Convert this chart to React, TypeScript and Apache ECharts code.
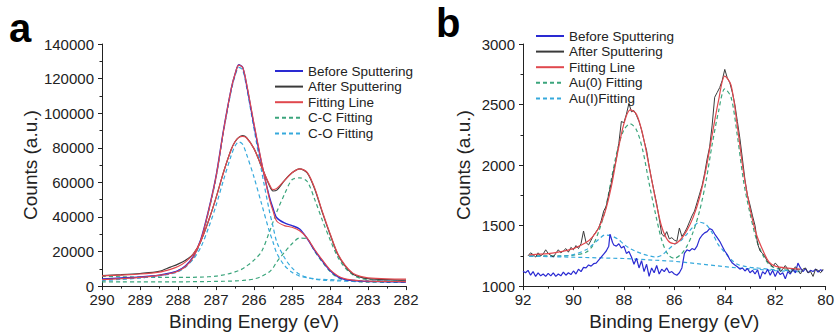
import React, { useEffect, useRef } from "react";
import * as echarts from "echarts";

const FONT = "'Liberation Sans', Arial, sans-serif";

// ---------- Panel a : C 1s ----------
const energyA = [290, 289.5, 289, 288.5, 288.2, 288, 287.8, 287.6, 287.4, 287.2, 287, 286.8, 286.6, 286.5, 286.4, 286.3, 286.2, 286, 285.8, 285.6, 285.5, 285.4, 285.2, 285, 284.8, 284.6, 284.4, 284.2, 284, 283.8, 283.6, 283.4, 283.2, 283, 282.5, 282];
const beforeExpA = [4200, 4700, 5300, 6300, 7600, 9000, 11800, 17000, 27000, 43500, 63500, 90500, 114000, 122500, 128000, 126500, 117000, 93000, 71000, 52000, 45000, 39500, 36500, 35000, 33000, 27500, 20500, 14500, 9000, 5500, 3800, 3200, 2900, 2700, 2500, 2400];
const beforeFitA = [3700, 4300, 5000, 6200, 7300, 8600, 11300, 16500, 26500, 43000, 63000, 90000, 114000, 122500, 127800, 126500, 117500, 94000, 71500, 51000, 43500, 37500, 35000, 34000, 32000, 27800, 21000, 15000, 9500, 6000, 4200, 3500, 3100, 2900, 2700, 2600];
const beforeCOA = [3300, 3900, 4700, 5900, 7000, 8300, 11000, 16200, 26000, 42500, 62500, 89500, 113000, 121500, 126500, 125000, 115500, 91000, 66500, 44000, 34500, 25500, 16500, 10500, 6800, 5000, 4000, 3500, 3200, 3000, 2900, 2800, 2700, 2700, 2600, 2500];
const beforeCCA = [2500, 2500, 2500, 2500, 2500, 2500, 2500, 2550, 2600, 2650, 2700, 2800, 2900, 3000, 3100, 3250, 3450, 4100, 5600, 8200, 10500, 14000, 19500, 24500, 27800, 27300, 20000, 13800, 8500, 5000, 3300, 2700, 2400, 2300, 2200, 2200];
const afterExpA = [6100, 6600, 7300, 8500, 11000, 12700, 15000, 18500, 26000, 37500, 51000, 66000, 79000, 83500, 86000, 87000, 86000, 79500, 69000, 58500, 55000, 55500, 61000, 65500, 67800, 65500, 56000, 42500, 30000, 18500, 11500, 7000, 5200, 4300, 3700, 3400];
const afterFitA = [5900, 6400, 7000, 8100, 9700, 11300, 14000, 18500, 26000, 37500, 51000, 66000, 79000, 83500, 86000, 86600, 85800, 79500, 69000, 59000, 55800, 56500, 61000, 65500, 67800, 65800, 56500, 43000, 30500, 19000, 12000, 7500, 5600, 4800, 4200, 4000];
const afterCOA = [3500, 4000, 4700, 6000, 7500, 9000, 11500, 15500, 22500, 33500, 46500, 61500, 75500, 81000, 83400, 82000, 76500, 63000, 47500, 32000, 25500, 19000, 12000, 8000, 5800, 4800, 4200, 3900, 3700, 3500, 3400, 3300, 3200, 3100, 3000, 3000];
const afterCCA = [5700, 5400, 5200, 5000, 5000, 5000, 5000, 5100, 5200, 5400, 5800, 6500, 7500, 8200, 9000, 10000, 11500, 15000, 20000, 31000, 37000, 43000, 53000, 61500, 62600, 60500, 50000, 38000, 27000, 17000, 10500, 6500, 4500, 3800, 3000, 2800];

// ---------- Panel b : Au 4f ----------
const energyB = [91.75, 91.5, 91, 90.5, 90, 89.5, 89.25, 89, 88.75, 88.5, 88.25, 88, 87.75, 87.5, 87.25, 87, 86.75, 86.5, 86.25, 86, 85.75, 85.5, 85.25, 85, 84.75, 84.5, 84.25, 84, 83.75, 83.5, 83.25, 83, 82.75, 82.5, 82.25, 82, 81.5, 81];
const fitB = [1258, 1262, 1268, 1285, 1310, 1360, 1405, 1480, 1610, 1820, 2100, 2340, 2455, 2420, 2250, 1990, 1720, 1490, 1375, 1350, 1385, 1460, 1570, 1730, 1960, 2250, 2530, 2735, 2660, 2320, 1930, 1640, 1430, 1300, 1200, 1165, 1148, 1140];
const au0B = [1250, 1250, 1250, 1250, 1255, 1280, 1330, 1450, 1620, 1880, 2130, 2290, 2340, 2290, 2120, 1850, 1600, 1380, 1260, 1230, 1260, 1330, 1450, 1620, 1860, 2170, 2440, 2630, 2560, 2240, 1860, 1600, 1390, 1260, 1180, 1150, 1140, 1135];
const au1B = [1245, 1245, 1245, 1248, 1260, 1300, 1340, 1385, 1422, 1415, 1390, 1345, 1310, 1285, 1265, 1250, 1240, 1255, 1300, 1345, 1375, 1430, 1490, 1528, 1510, 1440, 1340, 1280, 1220, 1180, 1165, 1155, 1150, 1145, 1140, 1135, 1128, 1122];
const bgB = [[91.75, 1248], [88, 1228], [86, 1205], [84.75, 1178], [83.5, 1150], [82, 1128], [81, 1118]];

const beforeB = [[92.0, 1122], [91.9, 1110], [91.8, 1130], [91.7, 1090], [91.6, 1120], [91.5, 1080], [91.4, 1110], [91.3, 1085], [91.2, 1100], [91.1, 1080], [91.0, 1105], [90.9, 1085], [90.8, 1110], [90.7, 1080], [90.6, 1100], [90.5, 1085], [90.4, 1115], [90.3, 1090], [90.2, 1110], [90.1, 1095], [90.0, 1125], [89.9, 1100], [89.8, 1140], [89.7, 1120], [89.6, 1155], [89.5, 1150], [89.4, 1175], [89.3, 1165], [89.2, 1185], [89.1, 1190], [89.0, 1215], [88.9, 1240], [88.8, 1265], [88.7, 1290], [88.6, 1330], [88.55, 1430], [88.45, 1360], [88.4, 1340], [88.3, 1330], [88.2, 1350], [88.1, 1315], [88.0, 1330], [87.9, 1270], [87.8, 1285], [87.7, 1240], [87.6, 1180], [87.5, 1230], [87.4, 1150], [87.3, 1210], [87.2, 1120], [87.1, 1180], [87.0, 1080], [86.9, 1150], [86.8, 1110], [86.7, 1170], [86.6, 1100], [86.5, 1140], [86.4, 1120], [86.3, 1150], [86.2, 1110], [86.1, 1120], [86.0, 1100], [85.9, 1090], [85.8, 1110], [85.7, 1150], [85.6, 1270], [85.5, 1300], [85.4, 1290], [85.3, 1310], [85.2, 1300], [85.1, 1330], [85.0, 1390], [84.9, 1420], [84.8, 1440], [84.7, 1450], [84.6, 1475], [84.5, 1465], [84.4, 1430], [84.3, 1400], [84.2, 1370], [84.1, 1330], [84.0, 1290], [83.9, 1260], [83.8, 1220], [83.7, 1190], [83.6, 1175], [83.5, 1160], [83.4, 1140], [83.3, 1150], [83.2, 1125], [83.1, 1145], [83.0, 1110], [82.9, 1130], [82.8, 1100], [82.7, 1135], [82.6, 1060], [82.5, 1120], [82.4, 1100], [82.3, 1140], [82.2, 1090], [82.1, 1130], [82.0, 1080], [81.9, 1125], [81.8, 1095], [81.7, 1110], [81.6, 1060], [81.5, 1120], [81.4, 1100], [81.3, 1140], [81.2, 1110], [81.1, 1190], [81.0, 1150], [80.9, 1120], [80.8, 1145], [80.7, 1110], [80.6, 1130], [80.5, 1120], [80.4, 1140], [80.3, 1115], [80.2, 1135], [80.1, 1125]];

const afterB = [[91.8, 1250], [91.7, 1275], [91.6, 1260], [91.5, 1240], [91.4, 1275], [91.3, 1250], [91.2, 1265], [91.1, 1300], [91.0, 1270], [90.9, 1255], [90.8, 1240], [90.7, 1270], [90.6, 1300], [90.5, 1275], [90.4, 1290], [90.3, 1310], [90.2, 1280], [90.1, 1320], [90.0, 1300], [89.9, 1335], [89.8, 1310], [89.7, 1350], [89.6, 1455], [89.5, 1360], [89.4, 1340], [89.3, 1380], [89.2, 1420], [89.1, 1450], [89.0, 1480], [88.9, 1540], [88.8, 1620], [88.7, 1660], [88.6, 1760], [88.5, 1850], [88.4, 1960], [88.3, 2050], [88.2, 2180], [88.1, 2360], [88.0, 2350], [87.9, 2420], [87.8, 2510], [87.7, 2440], [87.6, 2450], [87.5, 2410], [87.4, 2360], [87.3, 2290], [87.2, 2200], [87.1, 2120], [87.0, 1990], [86.9, 1880], [86.8, 1780], [86.7, 1680], [86.6, 1560], [86.5, 1430], [86.4, 1410], [86.3, 1450], [86.2, 1390], [86.1, 1400], [86.0, 1380], [85.9, 1370], [85.8, 1480], [85.7, 1410], [85.6, 1440], [85.5, 1480], [85.4, 1530], [85.3, 1580], [85.2, 1620], [85.1, 1690], [85.0, 1760], [84.9, 1830], [84.8, 1930], [84.7, 2050], [84.6, 2150], [84.5, 2330], [84.4, 2560], [84.3, 2600], [84.2, 2640], [84.1, 2700], [84.0, 2790], [83.9, 2720], [83.8, 2680], [83.7, 2600], [83.6, 2500], [83.5, 2360], [83.4, 2220], [83.3, 2050], [83.2, 1880], [83.1, 1750], [83.0, 1670], [82.9, 1580], [82.8, 1500], [82.7, 1350], [82.6, 1290], [82.5, 1270], [82.4, 1240], [82.3, 1200], [82.2, 1180], [82.1, 1160], [82.0, 1190], [81.9, 1170], [81.8, 1120], [81.7, 1140], [81.6, 1170], [81.5, 1140], [81.4, 1110], [81.3, 1130], [81.2, 1160], [81.1, 1130], [81.0, 1100], [80.9, 1140], [80.8, 1150], [80.7, 1110], [80.6, 1120], [80.5, 1080], [80.4, 1140], [80.3, 1130], [80.2, 1110], [80.1, 1140]];

const legendA = ["Before Sputtering", "After Sputtering", "Fitting Line", "C-C Fitting", "C-O Fitting"];
const legendB = ["Before Sputtering", "After Sputtering", "Fitting Line", "Au(0) Fitting", "Au(I)Fitting"];

const BLUE = "#2a2ad2";
const BLACK = "#3a3a3a";
const RED = "#e0484e";
const GREEN = "#3ba57c";
const CYAN = "#36a9dc";

const zip = (xs: number[], ys: number[]) => xs.map((x, i) => [x, ys[i]]);

function line(name: string, data: number[][], color: string, idx: number, opts: any = {}) {
  return {
    type: "line",
    name,
    data,
    xAxisIndex: idx,
    yAxisIndex: idx,
    symbol: "none",
    smooth: opts.smooth ?? 0.3,
    silent: true,
    z: opts.z ?? 2,
    lineStyle: { color, width: opts.width ?? 1.2, type: opts.dashed ? [4, 3] : "solid" },
    itemStyle: { color },
  };
}

const axisBase = {
  axisLine: { show: true, onZero: false, lineStyle: { color: "#222", width: 1 } },
  axisTick: { show: true, inside: false, length: 4, lineStyle: { color: "#222" } },
  minorTick: { show: true, splitNumber: 2, length: 2.5, lineStyle: { color: "#222" } },
  splitLine: { show: false },
  nameLocation: "middle",
  nameTextStyle: { color: "#222", fontSize: 19, fontFamily: FONT },
};

export default function App() {
  const ref = useRef<HTMLDivElement>(null);
  useEffect(() => {
    if (!ref.current) return;
    const chart = echarts.init(ref.current, undefined, { renderer: "svg" });
    const legendCommon = {
      orient: "vertical",
      itemWidth: 28,
      itemHeight: 14,
      itemGap: 1.6,
      padding: 0,
      selectedMode: false,
      itemStyle: { opacity: 0 },
      textStyle: { color: "#222", fontSize: 13.5, fontFamily: FONT, lineHeight: 14 },
    };
    chart.setOption({
      animation: false,
      backgroundColor: "#fff",
      grid: [
        { left: 102, right: 431, top: 44, bottom: 46 },
        { left: 523, right: 10, top: 44, bottom: 46 },
      ],
      xAxis: [
        {
          ...axisBase,
          type: "value",
          gridIndex: 0,
          min: 282,
          max: 290,
          interval: 1,
          inverse: true,
          name: "Binding Energy (eV)",
          nameGap: 24,
          axisLabel: { color: "#222", fontSize: 15, fontFamily: FONT, margin: 6 },
        },
        {
          ...axisBase,
          type: "value",
          gridIndex: 1,
          min: 80,
          max: 92,
          interval: 2,
          inverse: true,
          name: "Binding Energy (eV)",
          nameGap: 24,
          axisLabel: { color: "#222", fontSize: 15, fontFamily: FONT, margin: 6 },
        },
      ],
      yAxis: [
        {
          ...axisBase,
          type: "value",
          gridIndex: 0,
          min: 0,
          max: 140000,
          interval: 20000,
          name: "Counts (a.u.)",
          nameGap: 60,
          axisLabel: { color: "#222", fontSize: 15, fontFamily: FONT, margin: 8, formatter: (v: number) => String(v) },
        },
        {
          ...axisBase,
          type: "value",
          gridIndex: 1,
          min: 1000,
          max: 3000,
          interval: 500,
          name: "Counts (a.u.)",
          nameGap: 50,
          axisLabel: { color: "#222", fontSize: 15, fontFamily: FONT, margin: 8, formatter: (v: number) => String(v) },
        },
      ],
      legend: [
        { ...legendCommon, left: 274, top: 64, data: legendA },
        { ...legendCommon, left: 535, top: 29, data: legendB },
      ],
      graphic: [
        { type: "text", left: 9, top: 8, style: { text: "a", font: `bold 40px ${FONT}`, fill: "#000" } },
        { type: "text", left: 436, top: 3, style: { text: "b", font: `bold 40px ${FONT}`, fill: "#000" } },
      ],
      series: [
        line("C-C Fitting", zip(energyA, beforeCCA), GREEN, 0, { dashed: true }),
        line("C-C Fitting", zip(energyA, afterCCA), GREEN, 0, { dashed: true }),
        line("C-O Fitting", zip(energyA, beforeCOA), CYAN, 0, { dashed: true }),
        line("C-O Fitting", zip(energyA, afterCOA), CYAN, 0, { dashed: true }),
        line("Before Sputtering", zip(energyA, beforeExpA), BLUE, 0, { width: 1.4, z: 3 }),
        line("After Sputtering", zip(energyA, afterExpA), BLACK, 0, { width: 1.2, z: 3 }),
        line("Fitting Line", zip(energyA, beforeFitA), RED, 0, { z: 4 }),
        line("Fitting Line", zip(energyA, afterFitA), RED, 0, { z: 4 }),

        line("Au(0) Fitting", zip(energyB, au0B), GREEN, 1, { dashed: true }),
        line("Au(I)Fitting", zip(energyB, au1B), CYAN, 1, { dashed: true }),
        line("Au(I)Fitting", bgB, CYAN, 1, { dashed: true, smooth: false }),
        line("Before Sputtering", beforeB, BLUE, 1, { width: 1.2, smooth: false, z: 3 }),
        line("After Sputtering", afterB, BLACK, 1, { width: 1, smooth: false, z: 3 }),
        line("Fitting Line", zip(energyB, fitB), RED, 1, { z: 4 }),
      ],
    });
    return () => chart.dispose();
  }, []);
  return (
    <div
      ref={ref}
      style={{ position: "fixed", left: 0, top: 0, width: 837, height: 336, background: "#fff" }}
    />
  );
}
